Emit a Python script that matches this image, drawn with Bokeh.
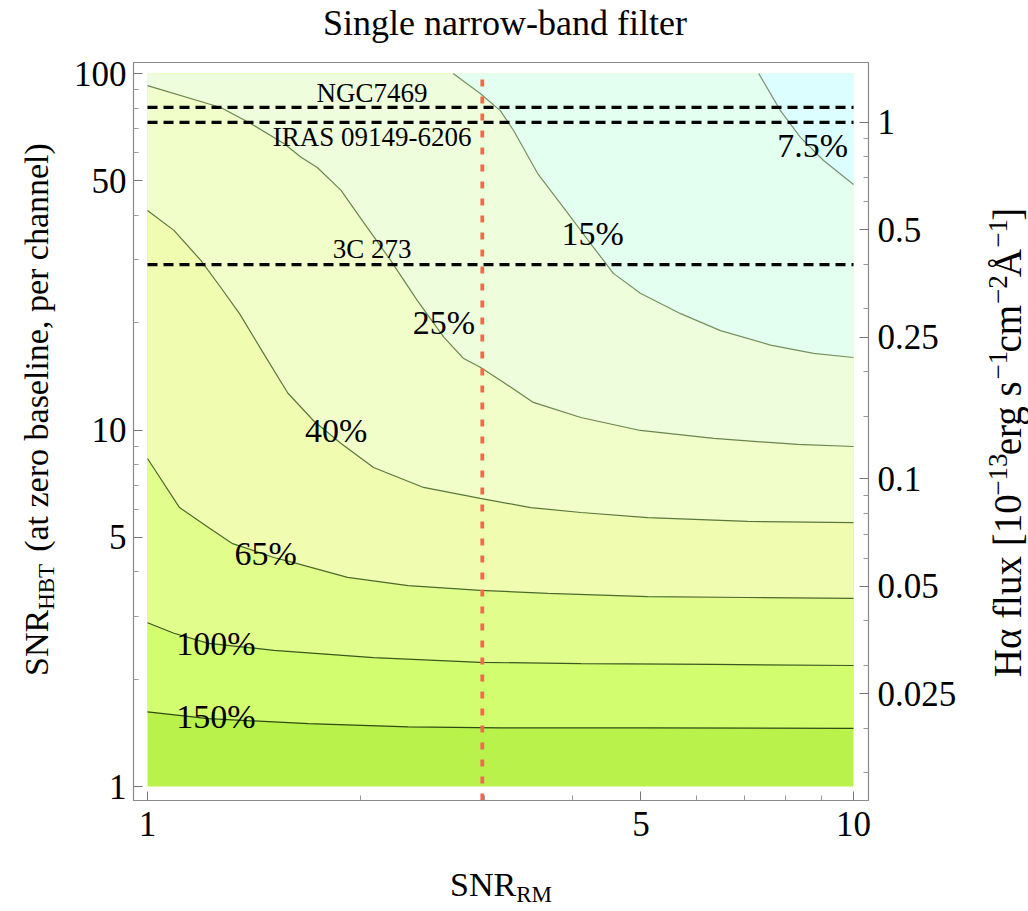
import math
from bokeh.plotting import figure
from bokeh.layouts import column, row
from bokeh.models import (Range1d, LogScale, LogAxis, FixedTicker,
                          CustomJSTickFormatter, Label)
from bokeh.core.properties import value
from bokeh.embed import file_html
from bokeh.resources import INLINE

# ---------------- data ----------------
snr_rm_min, snr_rm_max = 1, 10
snr_hbt_min, snr_hbt_max = 1, 100
flux_unit_snr = 72.9      # SNR_HBT corresponding to an H-alpha flux of 1e-13

contour_levels = ["150%", "100%", "65%", "40%", "25%", "15%", "7.5%"]

c150_x = [1, 1.22, 1.69, 2.34, 3.16, 5.11, 10]
c150_y = [1.62, 1.55, 1.50, 1.47, 1.46, 1.46, 1.455]
c100_x = [1, 1.09, 1.22, 1.51, 2.09, 2.96, 4.11, 6.34, 10]
c100_y = [2.88, 2.69, 2.52, 2.41, 2.30, 2.23, 2.21, 2.20, 2.185]
c65_x = [1, 1.11, 1.22, 1.32, 1.51, 1.63, 1.92, 2.34, 2.96, 3.69, 5.11, 7.08, 10]
c65_y = [8.32, 6.06, 5.33, 4.80, 4.39, 4.22, 3.86, 3.66, 3.55, 3.48, 3.41, 3.39, 3.37]
c40_x = [1, 1.09, 1.19, 1.27, 1.35, 1.46, 1.58, 1.72, 1.88, 2.09, 2.46, 2.96,
         3.49, 4.11, 5.11, 7.08, 10]
c40_y = [41.3, 36.3, 29.9, 25.1, 21.2, 16.4, 12.7, 10.6, 9.17, 7.85, 6.90, 6.43,
         6.06, 5.87, 5.68, 5.54, 5.50]
c25_x = [1, 1.27, 1.40, 1.56, 1.65, 1.74, 1.88, 2.00, 2.21, 2.41, 2.63, 2.80,
         2.96, 3.16, 3.52, 4.11, 4.99, 6.34, 8.33, 10]
c25_y = [92.5, 80.3, 72.4, 63.6, 58.2, 54.5, 47.0, 39.5, 29.9, 23.1, 18.2, 15.9,
         15.0, 13.8, 11.95, 10.84, 9.97, 9.47, 9.11, 8.99]
c15_x = [2.71, 2.96, 3.16, 3.30, 3.57, 3.94, 4.24, 4.57, 4.99, 5.69, 6.48, 7.63, 8.78, 10]
c15_y = [100, 87.9, 78.7, 69.2, 52.4, 40.5, 33.4, 27.5, 24.2, 21.2, 19.0, 17.3, 16.4, 15.97]
c7_x = [7.34, 7.88, 8.41, 9.07, 10]
c7_y = [100, 78.7, 66.2, 57.0, 48.8]

label_x = [1.25, 1.25, 1.47, 1.85, 2.63, 4.27, 8.75]
label_y = [1.57, 2.52, 4.50, 9.97, 20.0, 35.6, 62.8]

obj_names = ["NGC7469", "IRAS 09149-6206", "3C 273"]
obj_snr = [80.3, 72.9, 29.1]
obj_label_x = 2.08
snr_rm_cut = 2.98

x_ticks = [1, 5, 10]
x_minor = [2, 3, 4, 6, 7, 8, 9]
y_ticks = [1, 5, 10, 50, 100]
y_minor = [2, 3, 4, 6, 7, 8, 9, 20, 30, 40, 60, 70, 80, 90]
flux_ticks = [0.025, 0.05, 0.1, 0.25, 0.5, 1]
flux_minor = [0.015, 0.02, 0.03, 0.04, 0.06, 0.07, 0.08, 0.09, 0.15, 0.2,
              0.3, 0.4, 0.6, 0.7, 0.8, 0.9]

# ---------------- style ----------------
band_colors = ["#b8f24a", "#d2fd6e", "#e1fe8c", "#f0fdb0", "#f1fec9",
               "#eefedd", "#e3fff0", "#dcfefe"]
line_colors = ["#2f4a14", "#3b5820", "#4c6a2e", "#5a783c", "#6a864e",
               "#77905f", "#7b9070"]
FONT = "Liberation Serif"

W, H = 1028, 911
FL, FR, FT, FB = 133, 868, 62, 800      # plot frame on the page
TITLE_H = 46
LEFT_W, RIGHT_W = 64, 60
MID_H = 814
BOTTOM_H = H - TITLE_H - MID_H
px_per_dec_x = 706.0
px_per_dec_y = 356.5
xs = 10 ** (-(147 - FL) / px_per_dec_x)
xe = 10 ** ((FR - 147) / px_per_dec_x)
ys = 10 ** (-(FB - 786) / px_per_dec_y)
ye = 10 ** ((786 - FT) / px_per_dec_y)

p = figure(x_axis_type="log", y_axis_type="log",
           x_range=Range1d(xs, xe), y_range=Range1d(ys, ye),
           frame_width=FR - FL, frame_height=FB - FT,
           min_border_left=FL - LEFT_W, min_border_right=(W - RIGHT_W) - FR,
           min_border_top=FT - TITLE_H, min_border_bottom=MID_H - (FB - TITLE_H),
           output_backend="svg", toolbar_location=None,
           background_fill_color="white", border_fill_color="white")
p.title.visible = False
p.grid.visible = False
p.outline_line_color = "#8a8a8a"
p.outline_line_width = 1.2

p.quad(left=[snr_rm_min], right=[snr_rm_max], bottom=[snr_hbt_min], top=[snr_hbt_max],
       fill_color=band_colors[0], line_color=None)
contours = [(c150_x, c150_y), (c100_x, c100_y), (c65_x, c65_y), (c40_x, c40_y),
            (c25_x, c25_y), (c15_x, c15_y), (c7_x, c7_y)]
for i, (cx, cy) in enumerate(contours):
    p.patch(list(cx) + [snr_rm_max, cx[0]], list(cy) + [snr_hbt_max, snr_hbt_max],
            fill_color=band_colors[i + 1], line_color=None)
for i, (cx, cy) in enumerate(contours):
    p.line(cx, cy, line_color=line_colors[i], line_width=1.2)

p.text(x=label_x, y=label_y, text=contour_levels, text_font=value(FONT),
       text_font_size="34px", text_align="center", text_baseline="middle",
       text_color="black")

p.segment(x0=[snr_rm_min] * 3, x1=[snr_rm_max] * 3, y0=obj_snr, y1=obj_snr,
          line_color="black", line_width=3.3, line_dash="10 6")
for name, s, off in zip(obj_names, obj_snr, [14, -15, 16]):
    p.add_layout(Label(x=obj_label_x, y=s, y_offset=off, text=name,
                       text_font=FONT, text_font_size="27px", text_color="black",
                       text_align="center", text_baseline="middle"))

p.segment(x0=[snr_rm_cut], x1=[snr_rm_cut], y0=[ys], y1=[snr_hbt_max],
          line_color="#f26a4c", line_width=3.8, line_dash="7 10")

fmt = CustomJSTickFormatter(code="return tick.toString();")


def style_axis(ax):
    ax.axis_line_color = "#8a8a8a"
    ax.major_tick_line_color = "#777777"
    ax.minor_tick_line_color = "#999999"
    ax.major_tick_in = 9
    ax.major_tick_out = 0
    ax.minor_tick_in = 5
    ax.minor_tick_out = 0
    ax.major_label_text_font = FONT
    ax.major_label_text_font_size = "35px"
    ax.major_label_text_color = "black"
    ax.formatter = fmt


xa = p.xaxis[0]
xa.ticker = FixedTicker(ticks=x_ticks, minor_ticks=x_minor)
style_axis(xa)
xa.major_label_standoff = 11
ya = p.yaxis[0]
ya.ticker = FixedTicker(ticks=y_ticks, minor_ticks=y_minor)
style_axis(ya)
ya.major_label_standoff = 7
p.extra_y_ranges = {"flux": Range1d(ys / flux_unit_snr, ye / flux_unit_snr)}
p.extra_y_scales = {"flux": LogScale()}
ra = LogAxis(y_range_name="flux")
ra.ticker = FixedTicker(ticks=flux_ticks, minor_ticks=flux_minor)
style_axis(ra)
ra.major_label_standoff = 9
p.add_layout(ra, "right")

# -------- text panels (title, axis titles) --------
TNR = {' ': .25, '(': .333, ')': .333, ',': .25, '-': .333, '.': .25, '%': .833,
       '[': .333, ']': .333, 'A': .722, 'B': .667, 'C': .667, 'G': .722, 'H': .722,
       'I': .333, 'M': .889, 'N': .722, 'R': .667, 'S': .556, 'T': .611, 'Å': .722,
       'a': .444, 'b': .5, 'c': .444, 'd': .5, 'e': .444, 'f': .333, 'g': .5,
       'h': .5, 'i': .278, 'l': .278, 'm': .778, 'n': .5, 'o': .5, 'p': .5,
       'r': .333, 's': .389, 't': .278, 'u': .5, 'x': .5, 'z': .444, 'α': .46,
       '−': .5}


def tw(s, size):
    return size * sum(TNR.get(c, 0.5) for c in s)


def blank(w, h, yspan=None):
    f = figure(width=w, height=h, x_range=Range1d(0, w),
               y_range=Range1d(0, yspan if yspan else h),
               output_backend="svg", toolbar_location=None, min_border=0,
               x_axis_location=None, y_axis_location=None,
               background_fill_color="white", border_fill_color="white")
    f.title.visible = False
    f.outline_line_color = None
    f.grid.visible = False
    return f


def run_text(fig, pieces, ax, ay, vertical):
    """pieces: (text, size, shift, gap) ; text centre-line is at the anchor,
    shift = perpendicular px offset (positive = down in the text's frame),
    gap = extra advance (px) before the piece."""
    total = sum(tw(t, s) + g for t, s, _, g in pieces)
    acc = -total / 2
    for t, s, sh, g in pieces:
        acc += g
        if vertical:
            x, y, ang = ax + sh, ay + acc, math.pi / 2
        else:
            x, y, ang = ax + acc, ay - sh, 0
        fig.text(x=[x], y=[y], text=[t], angle=ang, text_font=value(FONT),
                 text_font_size=f"{s}px", text_align="left",
                 text_baseline="middle", text_color="black")
        acc += tw(t, s)


cx_mid = (FL + FR) / 2
cy_mid = (FT + FB) / 2

title_fig = blank(W, TITLE_H)
run_text(title_fig, [("Single narrow-band filter", 36, 0, 0)], cx_mid, TITLE_H - 22, False)

bottom_fig = blank(W, BOTTOM_H)
run_text(bottom_fig, [("SNR", 34, 0, 0), ("RM", 23, 10, 0)], cx_mid, H - 884, False)

# side figures: their frames line up with the main frame (FT..FB)
left_fig = blank(LEFT_W, MID_H, FB - FT)
run_text(left_fig, [("SNR", 34, 0, 0), ("HBT", 23, 10, 0),
                    ("(at zero baseline, per channel)", 34, 0, 12)],
         36, FB - cy_mid + 22, True)

right_fig = blank(RIGHT_W, MID_H, FB - FT)
run_text(right_fig, [("Hα flux [10", 39, 0, 0), ("−13", 27, -10, 1), ("erg s", 39, 0, 0),
                     ("−1", 27, -10, 1), ("cm", 39, 0, 0), ("−2", 27, -10, 1),
                     ("Å", 39, 0, 0), ("−1", 27, -10, 1), ("]", 39, 0, 0)],
         1007 - (W - RIGHT_W), FB - 442, True)

layout = column(title_fig, row(left_fig, p, right_fig), bottom_fig, spacing=0)
open("out.html", "w").write(file_html(layout, INLINE))
